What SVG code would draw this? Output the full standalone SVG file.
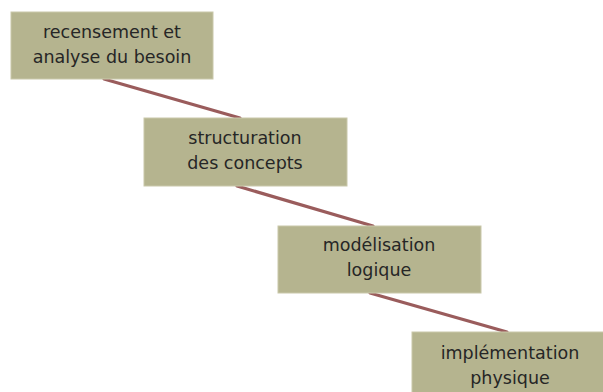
<svg xmlns="http://www.w3.org/2000/svg" width="603" height="392" viewBox="0 0 603 392">
<style>
.box{fill:#b5b48f;stroke:#c9c8aa;stroke-width:1}
.t{font-family:"DejaVu Sans",Verdana,sans-serif;font-size:17.5px;fill:#262626;text-anchor:middle}
.c{stroke:#9a5c5c;stroke-width:3.2;stroke-linecap:round;fill:none}
</style>
<rect width="603" height="392" fill="#fff"/>
<g id="connectors">
<line class="c" x1="104" y1="79" x2="240" y2="118"/>
<line class="c" x1="237" y1="186" x2="373" y2="226"/>
<line class="c" x1="370" y1="293" x2="507" y2="332"/>
</g>
<g id="n1">
<rect class="box" x="11" y="12" width="202" height="67"/>
<text class="t" x="112" y="38">recensement et</text>
<text class="t" x="112" y="63">analyse du besoin</text>
</g>
<g id="n2">
<rect class="box" x="144" y="118" width="203" height="68"/>
<text class="t" x="245" y="144">structuration</text>
<text class="t" x="245" y="169">des concepts</text>
</g>
<g id="n3">
<rect class="box" x="278" y="226" width="203" height="67"/>
<text class="t" x="379" y="251">modélisation</text>
<text class="t" x="379" y="276">logique</text>
</g>
<g id="n4">
<rect class="box" x="412" y="332" width="203" height="67"/>
<text class="t" x="510" y="359">implémentation</text>
<text class="t" x="510" y="384">physique</text>
</g>
</svg>
